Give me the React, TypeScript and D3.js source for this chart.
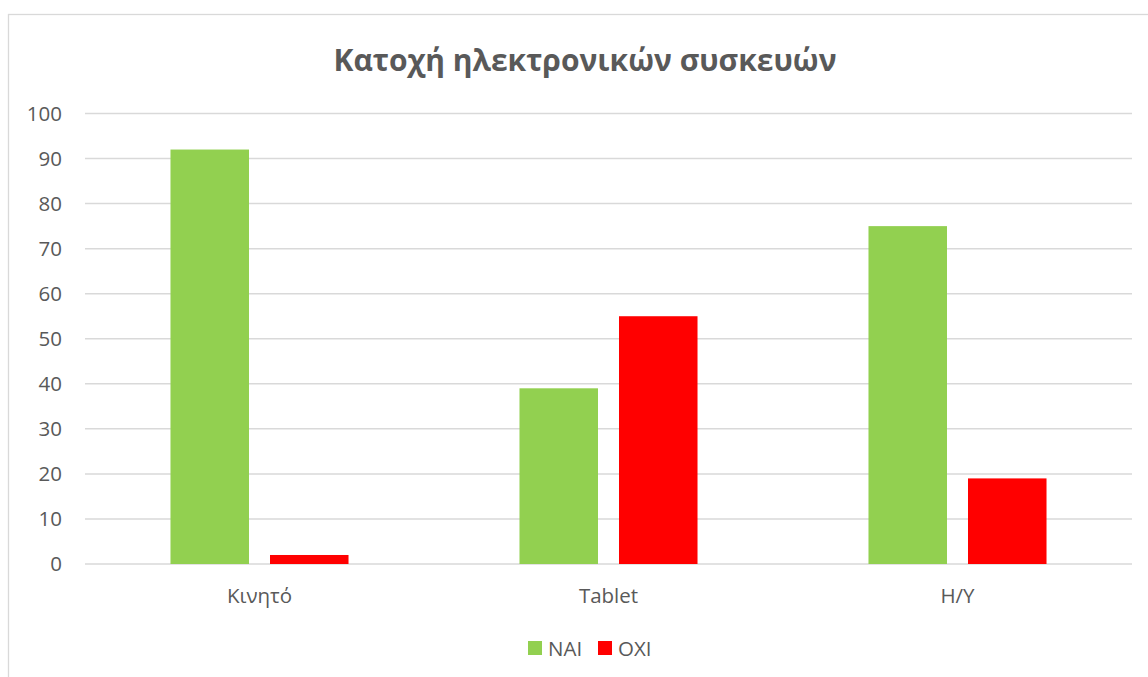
import React from "react";
import * as d3 from "d3";

const categories = ["Κινητό", "Tablet", "Η/Υ"];
const seriesNames = ["ΝΑΙ", "ΟΧΙ"];
const naiValues = [92, 39, 75];
const oxiValues = [2, 55, 19];
const yTicks = [0, 10, 20, 30, 40, 50, 60, 70, 80, 90, 100];
const colors = ["#92D050", "#FF0000"];

const W = 1148;
const H = 677;
const FONT = "'Open Sans', 'Noto Sans', sans-serif";
const TEXT = "#595959";

export default function App() {
  const plotLeft = 85;
  const plotRight = 1132;
  const plotTop = 113.5;
  const plotBottom = 564;

  const x0 = d3.scaleBand<string>().domain(categories).range([plotLeft, plotRight]).paddingInner(0).paddingOuter(0);
  const x1 = d3
    .scaleBand<string>()
    .domain(seriesNames)
    .range([0, x0.bandwidth()])
    .paddingInner(0.211)
    .paddingOuter(0.859);
  const y = d3.scaleLinear().domain([0, 100]).range([plotBottom, plotTop]);

  const series = [naiValues, oxiValues];

  return (
    <svg
      width={W}
      height={H}
      style={{ position: "absolute", left: 0, top: 0, background: "#fff" }}
      fontFamily={FONT}
    >
      <rect x={8.5} y={14.5} width={W + 10} height={H + 10} fill="#fff" stroke="#D9D9D9" strokeWidth={1.3} />
      <text x={585} y={71} textAnchor="middle" fontSize={30} fontWeight="bold" fill={TEXT}>
        Κατοχή ηλεκτρονικών συσκευών
      </text>
      {yTicks.map((t) => (
        <g key={t}>
          <line x1={plotLeft} x2={plotRight} y1={y(t)} y2={y(t)} stroke="#D9D9D9" strokeWidth={1.5} />
          <text x={62} y={y(t)} dy="0.36em" textAnchor="end" fontSize={20.5} fill={TEXT}>
            {t}
          </text>
        </g>
      ))}
      {categories.map((c, i) => (
        <g key={c}>
          {series.map((vals, s) => (
            <rect
              key={s}
              x={(x0(c) as number) + (x1(seriesNames[s]) as number)}
              width={x1.bandwidth()}
              y={y(vals[i])}
              height={y(0) - y(vals[i])}
              fill={colors[s]}
            />
          ))}
          <text x={(x0(c) as number) + x0.bandwidth() / 2} y={603} textAnchor="middle" fontSize={20.5} fill={TEXT}>
            {c}
          </text>
        </g>
      ))}
      <g>
        <rect x={528} y={641} width={14} height={14} fill={colors[0]} />
        <text x={548} y={655.5} fontSize={20.5} fill={TEXT}>
          {seriesNames[0]}
        </text>
        <rect x={598} y={641} width={14} height={14} fill={colors[1]} />
        <text x={618} y={655.5} fontSize={20.5} fill={TEXT}>
          {seriesNames[1]}
        </text>
      </g>
    </svg>
  );
}
